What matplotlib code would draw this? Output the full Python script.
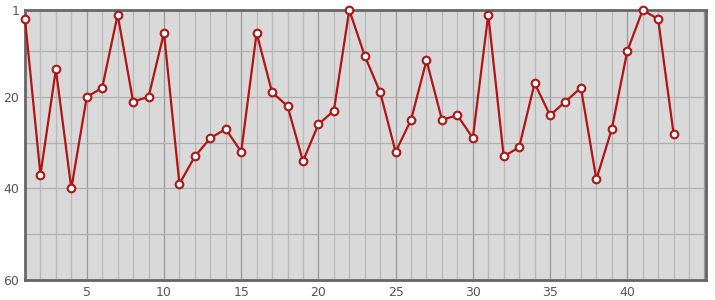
import numpy as np
import matplotlib.pyplot as plt

# values (y axis is inverted: 1 at top)
x_vals = list(range(1, 44))
y_vals = [3, 37, 14, 40, 20, 18, 2, 21, 20, 6,
          39, 33, 29, 27, 32, 6, 19, 22, 34, 26,
          23, 1, 11, 19, 32, 25, 12, 25, 24, 29,
          2, 33, 31, 17, 24, 21, 18, 38, 27, 10,
          1, 3, 28]
y_ticks = [1, 20, 40, 60]
x_ticks = [5, 10, 15, 20, 25, 30, 35, 40]

fig = plt.figure(figsize=(7.15, 3.0), dpi=100)
ax = fig.add_axes([25/715, 20/300, 681/715, 270/300])
ax.set_facecolor('#d9d9d9')

# grid: light lines every unit, darker every 5; horizontal every 10
for xv in range(2, 46):
    ax.axvline(xv, color='#999999' if xv % 5 == 0 else '#b8b8b8', lw=0.9, zorder=1)
for yv in [10, 20, 30, 40, 50]:
    ax.axhline(yv, color='#b0b0b0', lw=0.9, zorder=1)

ax.plot(x_vals, y_vals, color='#b01414', lw=1.6, marker='o', markersize=5.5,
        markerfacecolor='white', markeredgecolor='#b01414', markeredgewidth=1.5,
        zorder=3, clip_on=False)

ax.set_xlim(1, 45.1)
ax.set_ylim(60, 1)
ax.set_xticks(x_ticks)
ax.set_yticks(y_ticks)
ax.tick_params(length=0, labelsize=9, colors='#555555', pad=4)
for s in ax.spines.values():
    s.set_color('#666666')
    s.set_linewidth(2)

fig.savefig('out.png', dpi=100)
